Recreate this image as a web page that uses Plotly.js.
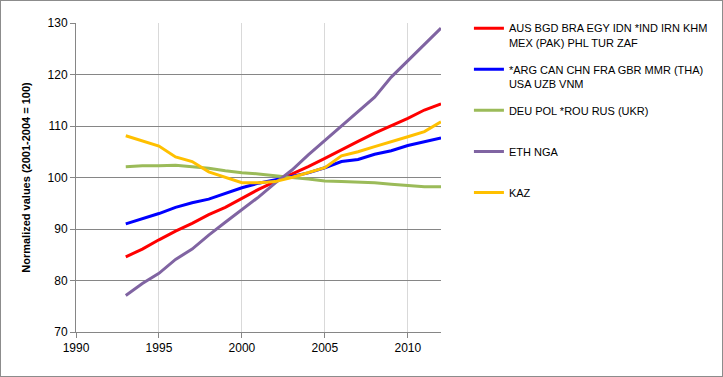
<!DOCTYPE html>
<html>
<head>
<meta charset="utf-8">
<script src="https://cdn.plot.ly/plotly-3.0.1.min.js"></script>
<style>
html,body{margin:0;padding:0;background:#fff;}
#chart{width:721px;height:375px;border:1px solid #8c8c8c;}
</style>
</head>
<body>
<div id="chart"></div>
<script>
const years = [1993,1994,1995,1996,1997,1998,1999,2000,2001,2002,2003,2004,2005,2006,2007,2008,2009,2010,2011,2012];
const redVals    = [84.6,86.1,87.9,89.6,91.1,92.8,94.2,96.0,97.7,99.2,100.6,102.1,103.7,105.4,107.0,108.6,110.0,111.5,113.1,114.3];
const blueVals   = [91.0,92.0,93.0,94.2,95.1,95.8,96.9,98.0,98.9,99.5,100.2,100.9,101.9,103.1,103.5,104.5,105.2,106.2,106.9,107.7];
const greenVals  = [102.1,102.3,102.3,102.4,102.1,101.8,101.3,100.9,100.7,100.3,100.0,99.7,99.3,99.2,99.1,99.0,98.7,98.4,98.2,98.2];
const purpleVals = [77.1,79.4,81.4,84.1,86.1,88.8,91.3,93.8,96.2,98.9,101.4,104.4,107.2,110.0,112.8,115.6,119.5,122.7,125.8,129.0];
const yellowVals = [108.1,107.1,106.1,104.0,103.1,101.1,100.1,99.0,99.0,99.2,100.0,100.9,101.9,104.2,105.0,106.0,106.9,107.9,108.9,110.8];
const seriesNames = [
  "AUS BGD BRA EGY IDN *IND IRN KHM<br>MEX (PAK) PHL TUR ZAF",
  "*ARG CAN CHN FRA GBR MMR (THA)<br>USA UZB VNM",
  "DEU POL *ROU RUS (UKR)<br> ",
  "ETH NGA<br> ",
  "KAZ<br> "
];
const seriesColors = ["#ff0000","#0000ff","#9bbb59","#8064a2","#ffc000"];
const seriesVals = [redVals, blueVals, greenVals, purpleVals, yellowVals];

const traces = seriesVals.map((v,i)=>({
  x: years, y: v, type:'scatter', mode:'lines',
  name: seriesNames[i], legendgroup: 'g'+i,
  line:{color: seriesColors[i], width:3}
}));

const layout = {
  width:721, height:375,
  margin:{l:75, r:281, t:22, b:44},
  paper_bgcolor:'#fff', plot_bgcolor:'#fff',
  font:{family:'"Liberation Sans", Arial, sans-serif', size:12, color:'#000'},
  xaxis:{range:[1990,2012], tickvals:[1990,1995,2000,2005,2010], showgrid:true, gridcolor:'#d9d9d9', gridwidth:1,
    showline:true, linecolor:'#868686', linewidth:1, ticks:'outside', ticklen:5, tickcolor:'#868686', zeroline:false,
    tickfont:{size:12}},
  yaxis:{range:[70,130], dtick:10, showgrid:true, gridcolor:'#868686', gridwidth:1,
    showline:true, linecolor:'#868686', linewidth:1, ticks:'outside', ticklen:5, tickcolor:'#868686', zeroline:false,
    tickfont:{size:12},
    title:{text:'<b>Normalized values (2001-2004 = 100)</b>', font:{size:11}, standoff:14}},
  showlegend:true,
  legend:{xref:'container', yref:'container', x:0.649, xanchor:'left', y:0.964, yanchor:'top', valign:'top', tracegroupgap:9.5,
    font:{size:11}, itemwidth:30, bgcolor:'rgba(0,0,0,0)'}
};
Plotly.newPlot('chart', traces, layout, {displayModeBar:false, staticPlot:true});
</script>
</body>
</html>
